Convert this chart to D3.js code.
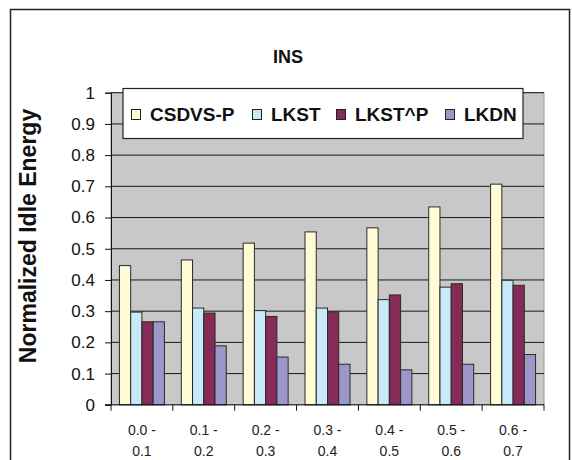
<!DOCTYPE html>
<html>
<head>
<meta charset="utf-8">
<script src="https://cdn.jsdelivr.net/npm/d3@7"></script>
<style>
  html, body { margin: 0; padding: 0; background: #fff; }
  svg { display: block; font-family: Arial, "Liberation Sans", sans-serif; }
</style>
</head>
<body>
<svg id="chart" width="572" height="460"></svg>
<script>
// Utilization ranges on the x axis
const categories = ["0.0 - 0.1", "0.1 - 0.2", "0.2 - 0.3", "0.3 - 0.4", "0.4 - 0.5", "0.5 - 0.6", "0.6 - 0.7"];
const seriesNames = ["CSDVS-P", "LKST", "LKST^P", "LKDN"];
const csdvsP = [0.446, 0.464, 0.518, 0.554, 0.567, 0.634, 0.707];
const lkst   = [0.297, 0.310, 0.302, 0.310, 0.337, 0.377, 0.399];
const lkstP  = [0.266, 0.294, 0.283, 0.298, 0.352, 0.388, 0.383];
const lkdn   = [0.266, 0.189, 0.153, 0.130, 0.112, 0.130, 0.161];
const yTicks = [0, 0.1, 0.2, 0.3, 0.4, 0.5, 0.6, 0.7, 0.8, 0.9, 1];
const colors = ["#FFFCD6", "#C8E9F8", "#862B57", "#9C97CA"];

const seriesValues = [csdvsP, lkst, lkstP, lkdn];

const svg = d3.select("#chart");

// Chart frame
svg.append("rect")
  .attr("x", 10.5).attr("y", 9.5)
  .attr("width", 559).attr("height", 470)
  .attr("fill", "#fff").attr("stroke", "#222").attr("stroke-width", 1.5);

const plot = { left: 111, right: 544, top: 92.7, bottom: 404.8 };

const x0 = d3.scaleBand().domain(categories).range([plot.left, plot.right]).paddingInner(0).paddingOuter(0);
const groupPad = 1.5 / 5.5;
const x1 = d3.scaleBand().domain(seriesNames)
  .range([x0.bandwidth() * groupPad / 2, x0.bandwidth() * (1 - groupPad / 2)]);
const y = d3.scaleLinear().domain([0, 1]).range([plot.bottom, plot.top]);

// Plot area background
svg.append("rect")
  .attr("x", plot.left).attr("y", plot.top)
  .attr("width", plot.right - plot.left).attr("height", plot.bottom - plot.top)
  .attr("fill", "#C8C8C8").attr("stroke", "#999").attr("stroke-width", 1);

// Horizontal gridlines
svg.append("g").selectAll("line")
  .data(yTicks.filter(d => d > 0))
  .join("line")
  .attr("x1", plot.left).attr("x2", plot.right)
  .attr("y1", d => y(d)).attr("y2", d => y(d))
  .attr("stroke", "#1a1a1a").attr("stroke-width", 1);

// Bars
const groups = svg.append("g").selectAll("g")
  .data(categories)
  .join("g")
  .attr("transform", d => `translate(${x0(d)},0)`);

groups.selectAll("rect")
  .data((c, i) => seriesNames.map((s, k) => ({ s, k, v: seriesValues[k][i] })))
  .join("rect")
  .attr("x", d => x1(d.s))
  .attr("width", x1.bandwidth())
  .attr("y", d => y(d.v))
  .attr("height", d => y(0) - y(d.v))
  .attr("fill", d => colors[d.k])
  .attr("stroke", "#2a2a2a").attr("stroke-width", 1);

// Y axis
const yAxis = d3.axisLeft(y).tickValues(yTicks).tickSize(6).tickPadding(10)
  .tickFormat(d => d === 0 ? "0" : d === 1 ? "1" : d3.format(".1f")(d));
const gy = svg.append("g").attr("transform", `translate(${plot.left},0)`).call(yAxis);
gy.select(".domain").attr("stroke", "#111");
gy.selectAll(".tick line").attr("stroke", "#111");
gy.selectAll(".tick text").attr("font-size", 17).attr("fill", "#111")
  .attr("font-family", "Arial, 'Liberation Sans', sans-serif");

// X axis with ticks on category boundaries
const gx = svg.append("g").attr("transform", `translate(0,${plot.bottom})`);
gx.append("line").attr("x1", plot.left - 6).attr("x2", plot.right)
  .attr("stroke", "#111");
const bounds = categories.map(c => x0(c)).concat([plot.right]);
gx.selectAll("line.tk").data(bounds).join("line").attr("class", "tk")
  .attr("x1", d => d).attr("x2", d => d).attr("y1", 0).attr("y2", 6)
  .attr("stroke", "#111");
const lbl = gx.selectAll("text.cat").data(categories).join("text").attr("class", "cat")
  .attr("x", d => x0(d) + x0.bandwidth() / 2)
  .attr("text-anchor", "middle")
  .attr("font-size", 14).attr("fill", "#222");
lbl.each(function(d) {
  const parts = d.split(" - ");
  const t = d3.select(this);
  t.append("tspan").attr("x", x0(d) + x0.bandwidth() / 2).attr("y", 30).text(parts[0] + " -");
  t.append("tspan").attr("x", x0(d) + x0.bandwidth() / 2).attr("y", 51).text(parts[1]);
});

// Title
svg.append("text")
  .attr("x", 288).attr("y", 63)
  .attr("text-anchor", "middle")
  .attr("font-size", 18).attr("font-weight", "bold").attr("fill", "#111")
  .text("INS");

// Y axis title
svg.append("text")
  .attr("transform", `translate(36,236) rotate(-90)`)
  .attr("text-anchor", "middle")
  .attr("font-size", 23).attr("font-weight", "bold").attr("fill", "#111")
  .text("Normalized Idle Energy");

// Legend
const legend = svg.append("g");
legend.append("rect")
  .attr("x", 123).attr("y", 88.5).attr("width", 400).attr("height", 50)
  .attr("fill", "#fff").attr("stroke", "#222").attr("stroke-width", 1.2);
const legendX = [131, 252, 336, 445];
const items = legend.selectAll("g.item").data(seriesNames).join("g").attr("class", "item")
  .attr("transform", (d, i) => `translate(${legendX[i]},109)`);
items.append("rect")
  .attr("x", 0.5).attr("y", 0.5).attr("width", 9).attr("height", 10)
  .attr("fill", (d, i) => colors[i]).attr("stroke", "#222").attr("stroke-width", 1);
items.append("text")
  .attr("x", 19).attr("y", 12)
  .attr("font-size", 19).attr("font-weight", "bold").attr("fill", "#111")
  .text(d => d);
</script>
</body>
</html>
